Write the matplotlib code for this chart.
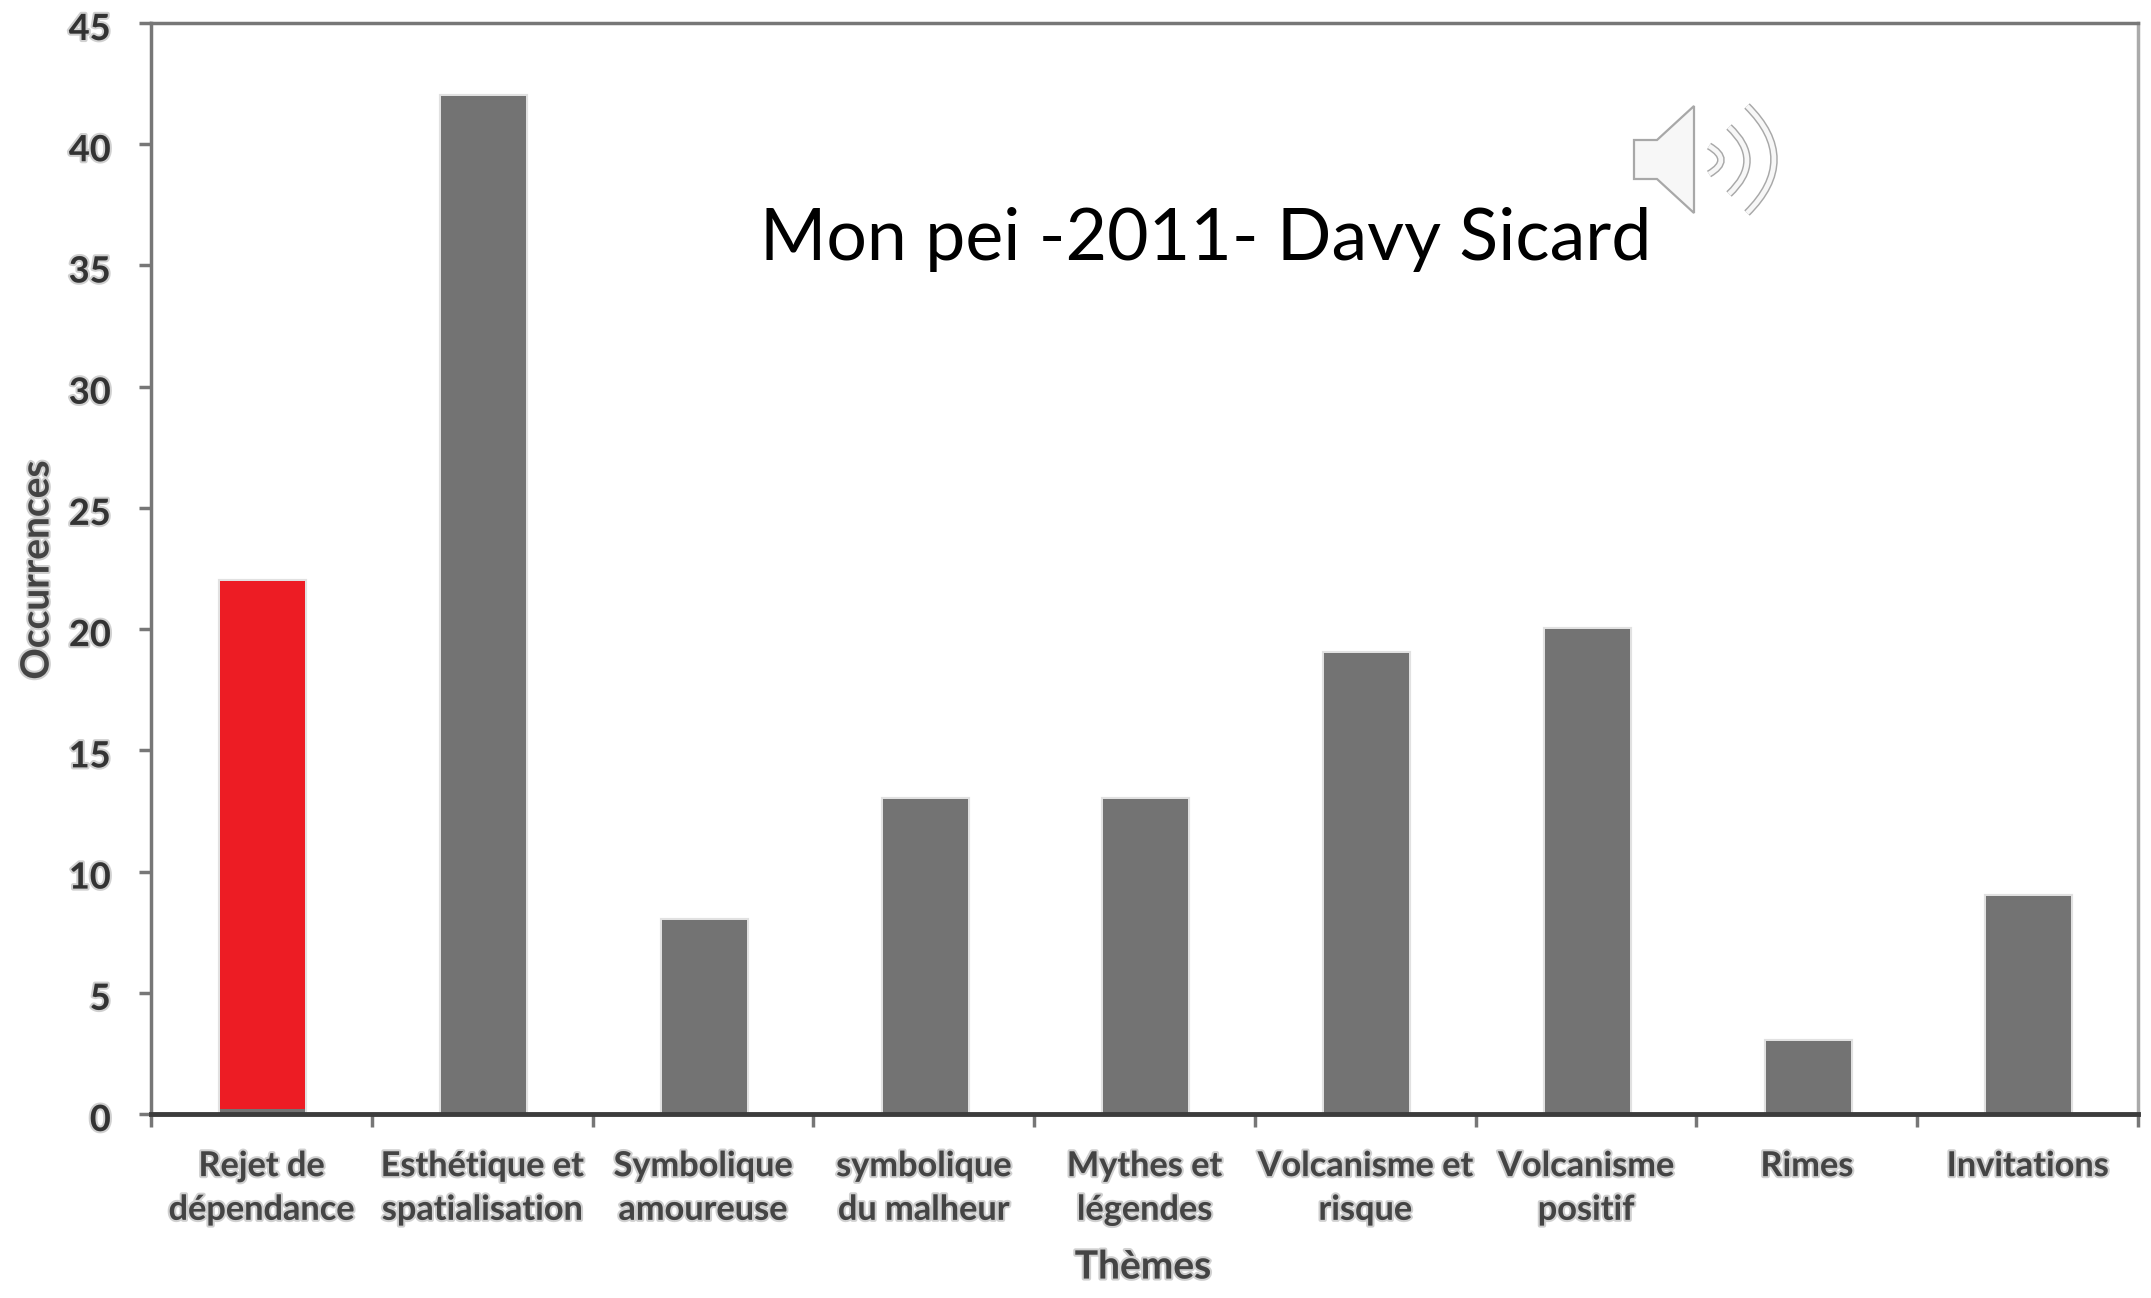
import matplotlib
matplotlib.use("Agg")
import matplotlib.pyplot as plt
import matplotlib.patheffects as pe
from matplotlib.patches import Polygon, PathPatch
from matplotlib.path import Path
from matplotlib.transforms import ScaledTranslation

themes = ["Rejet de\ndépendance", "Esthétique et\nspatialisation", "Symbolique\namoureuse",
          "symbolique\ndu malheur", "Mythes et\nlégendes", "Volcanisme et\nrisque",
          "Volcanisme\npositif", "Rimes", "Invitations"]
occurrences = [22, 42, 8, 13, 13, 19, 20, 3, 9]
yticks = [0, 5, 10, 15, 20, 25, 30, 35, 40, 45]

W, H = 2151, 1298
plt.rcParams['font.family'] = ['Lato', 'DejaVu Sans']

fig = plt.figure(figsize=(W / 100, H / 100), dpi=100)
ax = fig.add_axes([151 / W, 1 - 1114 / H, (2138 - 151) / W, (1114 - 23) / H])

soft = [pe.withStroke(linewidth=3, foreground='#444444', alpha=0.25)]
x = list(range(len(themes)))
bar_x = [i + 0.006 for i in x]

bars = ax.bar(bar_x, occurrences, width=0.385, color='#737373', zorder=2)
for b in bars:
    b.set_path_effects([pe.withStroke(linewidth=3, foreground='#c4c4c4', alpha=0.5)])

# first bar is red, sits just above the axis line
ax.bar(bar_x[0], occurrences[0] - 0.2, bottom=0.2, width=0.385, color='#ed1c24', zorder=3)

ax.set_xlim(-0.5, len(themes) - 0.5)
ax.set_ylim(0, 45)
ax.set_yticks(yticks)
ax.set_yticklabels([str(v) for v in yticks], fontsize=26, fontweight='bold', color='#333333',
                   path_effects=soft)
ax.set_xticks([i - 0.5 for i in range(len(themes) + 1)])
ax.set_xticklabels([])
ax.set_xticks(x, minor=True)
ax.set_xticklabels(themes, minor=True, fontsize=24.7, fontweight='bold', color='#444444',
                   linespacing=1.45, path_effects=soft)
ax.tick_params(axis='x', which='minor', length=0, pad=26)
ax.tick_params(axis='both', which='major', length=9, width=2.5, color='#777777')
ax.tick_params(axis='y', pad=20)

# y labels sit a little below their ticks in the original
down = ScaledTranslation(0, -3.5 / 100, fig.dpi_scale_trans)
for lab in ax.get_yticklabels():
    lab.set_transform(lab.get_transform() + down)

for side in ['top', 'right', 'left']:
    ax.spines[side].set_color('#777777')
    ax.spines[side].set_linewidth(2.5)
ax.spines['right'].set_color('#aaaaaa')
ax.spines['bottom'].set_color('#3c3c3c')
ax.spines['bottom'].set_linewidth(3.5)
ax.spines['bottom'].set_zorder(5)

fig.text(1143 / W, 1 - 1267 / H, "Thèmes", fontsize=28, fontweight='bold', color='#444444',
         ha='center', va='center', path_effects=soft)
fig.text(37 / W, 1 - 570 / H, "Occurrences", fontsize=28, fontweight='bold', color='#444444',
         rotation=90, ha='center', va='center', path_effects=soft)
fig.text(1206 / W, 1 - 239 / H, "Mon pei -2011- Davy Sicard", fontsize=51.6, color='black',
         ha='center', va='center', zorder=10)

# speaker icon, overlay in pixel coordinates
icon = fig.add_axes([0, 0, 1, 1], facecolor='none')
icon.set_xlim(0, W)
icon.set_ylim(H, 0)
icon.axis('off')
icon.add_patch(Polygon([(1634, 140), (1657, 140), (1694, 106), (1694, 213), (1657, 179), (1634, 179)],
                       closed=True, facecolor='#f7f7f7', edgecolor='#a8a8a8', linewidth=1.6))
for x0, xb, y0, y1 in [(1709, 1721, 146, 174), (1729, 1747, 127, 194), (1747, 1774, 106, 213)]:
    curve = Path([(x0, y0), (2 * xb - x0, (y0 + y1) / 2), (x0, y1)],
                 [Path.MOVETO, Path.CURVE3, Path.CURVE3])
    icon.add_patch(PathPatch(curve, facecolor='none', edgecolor='#a8a8a8', linewidth=5.5))
    icon.add_patch(PathPatch(curve, facecolor='none', edgecolor='#f7f7f7', linewidth=3.4))

fig.savefig("out.png", dpi=100)
